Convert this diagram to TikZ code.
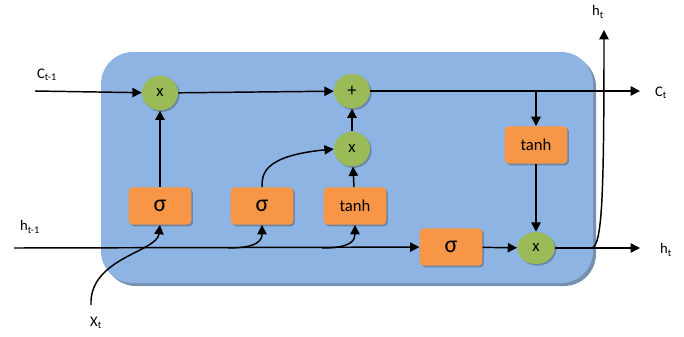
\documentclass[tikz,border=0pt]{standalone}
\usepackage{fontspec}
\setmainfont{Carlito}
\usetikzlibrary{arrows.meta,shadows,shapes.geometric}
\definecolor{cellblue}{HTML}{8DB4E2}
\definecolor{cellshadow}{HTML}{7890B0}
\definecolor{gatefill}{HTML}{F79646}
\definecolor{opfill}{HTML}{9BBB59}
\tikzset{
  x=0.75pt, y=-0.75pt,
  conn/.style={line width=1.1pt, -{Triangle[length=7pt,width=7pt]}},
  gatebox/.style={draw=none, fill=gatefill, rounded corners=3pt, minimum width=47pt, minimum height=28pt,
    drop shadow={shadow xshift=1.2pt, shadow yshift=-1.2pt, fill=black, opacity=0.25}},
  opnode/.style={draw=none, fill=opfill, ellipse, minimum width=27pt, minimum height=26pt, inner sep=0pt,
    drop shadow={shadow xshift=1.2pt, shadow yshift=-1.2pt, fill=black, opacity=0.25}},
  sigfont/.style={font=\fontsize{18}{19}\selectfont},
  tanhfont/.style={font=\fontsize{12.5}{14}\selectfont},
  opfont/.style={font=\fontsize{12.5}{14}\selectfont},
  lbl/.style={font=\fontsize{11}{13}\selectfont, inner sep=1pt},
}
\begin{document}
\begin{tikzpicture}
\useasboundingbox (0,0) rectangle (684,336);
% cell
\fill[cellshadow, rounded corners=24pt] (104,55) rectangle (596,286);
\fill[cellblue, rounded corners=24pt] (101,52) rectangle (593,283);
% gates
\node[gatebox, sigfont] (s1) at (160,206) {σ};
\node[gatebox, sigfont] (s2) at (262,206) {σ};
\node[gatebox, tanhfont] (t1) at (355,206) {tanh};
\node[gatebox, tanhfont] (t2) at (536,145) {tanh};
\node[gatebox, sigfont] (s3) at (451,247) {σ};
% ops
\node[opnode, opfont] (m1) at (160,93) {x};
\node[opnode, font=\fontsize{14}{15}\selectfont] (p) at (352,91) {+};
\node[opnode, opfont] (m2) at (352,149) {x};
\node[opnode, opfont, minimum width=28pt, minimum height=24pt] (m3) at (536,248) {x};
% free ends
\coordinate (cin) at (35,91);
\coordinate (cout) at (640,91);
\coordinate (hin) at (14,248);
\coordinate (hout) at (640,248);
\coordinate (htop) at (604,30);
\coordinate (xin) at (91,305);
\coordinate (ctap) at (536,91);
\coordinate (hsplit) at (592,248);
\coordinate (j2) at (228,248);
\coordinate (j3) at (322,248);
% labels
\node[lbl] (lc1) at (47,75) {C\textsubscript{t-1}};
\node[lbl] (lct) at (661,93) {C\textsubscript{t}};
\node[lbl] (lh1) at (30,227) {h\textsubscript{t-1}};
\node[lbl] (lht) at (666,250) {h\textsubscript{t}};
\node[lbl] (lhtop) at (598,12) {h\textsubscript{t}};
\node[lbl] (lx) at (96,323) {X\textsubscript{t}};
% cell state line
\draw[conn] (cin) -- (m1);
\draw[conn] (m1) -- (p);
\draw[conn] (p) -- (cout);
\draw[conn] (ctap) -- (t2);
\draw[conn] (t2) -- (m3);
% hidden line
\draw[conn] (hin) -- (s3);
\draw[conn] (s3) -- (m3);
\draw[conn] (m3) -- (hout);
\draw[conn] (hsplit) .. controls (602,244) and (604,200) .. (htop);
% gates to ops
\draw[conn] (s1) -- (m1);
\draw[conn] (t1) -- (m2);
\draw[conn] (m2) -- (p);
\draw[conn] (s2.north) .. controls (262,175) and (262,156) .. (m2.west);
% inputs to gates
\draw[conn] (xin) .. controls (89,258) and (157,252) .. (s1.south);
\draw[conn] (j2) .. controls (258,248) and (262,240) .. (s2.south);
\draw[conn] (j3) .. controls (352,248) and (355,240) .. (t1.south);
\end{tikzpicture}
\end{document}
